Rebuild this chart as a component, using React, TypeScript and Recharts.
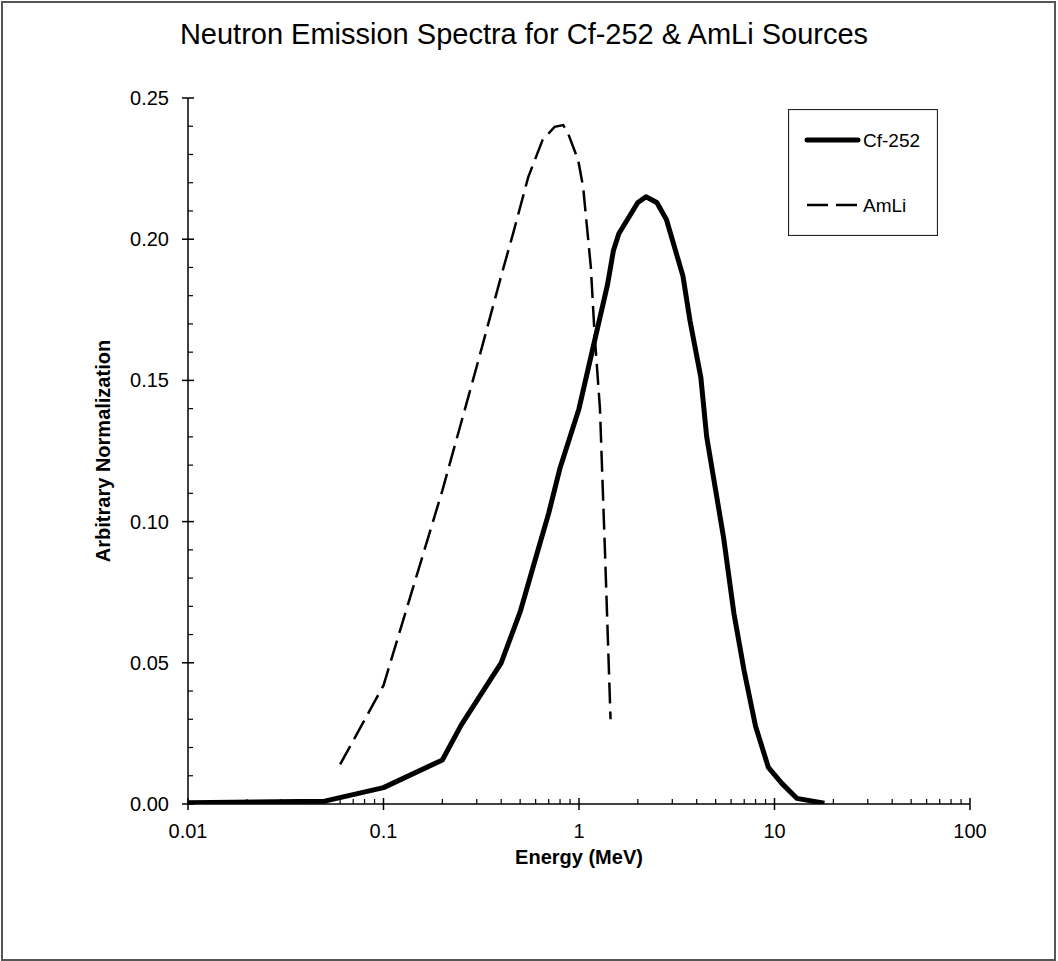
import { LineChart, Line, XAxis, YAxis, Legend, Label } from 'recharts'

const cfEnergy = [0.01, 0.05, 0.1, 0.2, 0.25, 0.4, 0.5, 0.6, 0.7, 0.8, 1.0, 1.4, 1.5, 1.6, 2.0, 2.2, 2.5, 2.8, 3.4, 3.7, 4.2, 4.5, 5.5, 6.2, 7, 8, 9.3, 10.9, 13, 18]
const cfValues = [0.0004, 0.001, 0.0058, 0.0156, 0.028, 0.05, 0.068, 0.087, 0.103, 0.119, 0.14, 0.184, 0.196, 0.202, 0.213, 0.215, 0.213, 0.207, 0.187, 0.171, 0.151, 0.13, 0.094, 0.0675, 0.047, 0.0275, 0.013, 0.0073, 0.002, 0.0003]

const amliEnergy = [0.06, 0.1, 0.2, 0.3, 0.4, 0.46, 0.55, 0.65, 0.75, 0.83, 0.88, 0.99, 1.05, 1.15, 1.2, 1.28, 1.36, 1.45]
const amliValues = [0.014, 0.042, 0.111, 0.155, 0.187, 0.202, 0.222, 0.235, 0.2398, 0.2404, 0.2374, 0.228, 0.2185, 0.19, 0.167, 0.14, 0.088, 0.03]

const xMajor = [0.01, 0.1, 1, 10, 100]
const xMinor = [
  0.02, 0.03, 0.04, 0.05, 0.06, 0.07, 0.08, 0.09,
  0.2, 0.3, 0.4, 0.5, 0.6, 0.7, 0.8, 0.9,
  2, 3, 4, 5, 6, 7, 8, 9,
  20, 30, 40, 50, 60, 70, 80, 90,
]
const yMajor = [0, 0.05, 0.1, 0.15, 0.2, 0.25]
const yMinor = [
  0.01, 0.02, 0.03, 0.04, 0.06, 0.07, 0.08, 0.09, 0.11, 0.12, 0.13, 0.14,
  0.16, 0.17, 0.18, 0.19, 0.21, 0.22, 0.23, 0.24,
]

const cfData = cfEnergy.map((e, i) => ({ e, v: cfValues[i] }))
const amliData = amliEnergy.map((e, i) => ({ e, v: amliValues[i] }))

const FONT = '"Liberation Sans", Arial, sans-serif'
const INK = '#000'

function XTick({ x, y, payload }: any) {
  const v = payload.value
  const major = xMajor.includes(v)
  return (
    <g>
      {major
        ? <line x1={x} x2={x} y1={y - 6} y2={y + 6} stroke={INK} strokeWidth={1.5} />
        : <line x1={x} x2={x} y1={y} y2={y - 5} stroke={INK} strokeWidth={1.2} />}
      {major && (
        <text x={x} y={y + 34} textAnchor="middle" fontSize={20} fontFamily={FONT} fill={INK}>
          {String(v)}
        </text>
      )}
    </g>
  )
}

function YTick({ x, y, payload }: any) {
  const v = payload.value
  const major = yMajor.includes(v)
  return (
    <g>
      {major
        ? <line x1={x - 6} x2={x + 6} y1={y} y2={y} stroke={INK} strokeWidth={1.5} />
        : <line x1={x} x2={x + 5} y1={y} y2={y} stroke={INK} strokeWidth={1.2} />}
      {major && (
        <text x={x - 19} y={y + 7} textAnchor="end" fontSize={20} fontFamily={FONT} fill={INK}>
          {v.toFixed(2)}
        </text>
      )}
    </g>
  )
}

function LegendBox() {
  return (
    <svg width={150} height={127} style={{ display: 'block' }}>
      <rect x={0.5} y={0.5} width={149} height={126} fill="#fff" stroke="#222" strokeWidth={1.2} />
      <line x1={19} x2={70} y1={31} y2={31} stroke={INK} strokeWidth={5} strokeLinecap="round" />
      <text x={75} y={38} fontSize={19} fontFamily={FONT} fill={INK}>Cf-252</text>
      <line x1={19} x2={70} y1={96} y2={96} stroke={INK} strokeWidth={2.5} strokeDasharray="21 8" />
      <text x={75} y={103} fontSize={19} fontFamily={FONT} fill={INK}>AmLi</text>
    </svg>
  )
}

export default function App() {
  return (
    <div style={{ position: 'absolute', left: 0, top: 0, width: 1058, height: 961, background: '#fff', fontFamily: FONT }}>
      <div
        style={{
          position: 'absolute', left: 1, top: 1, width: 1055, height: 960,
          boxSizing: 'border-box', border: '2px solid #555',
        }}
      />
      <div
        style={{
          position: 'absolute', left: 0, top: 16, width: 1048, textAlign: 'center',
          fontSize: 29, lineHeight: '36px', color: INK, fontFamily: FONT,
        }}
      >
        Neutron Emission Spectra for Cf-252 &amp; AmLi Sources
      </div>
      <div style={{ position: 'absolute', left: 0, top: 0 }}>
        <LineChart width={1058} height={961} margin={{ top: 98, right: 88, bottom: 97, left: 88 }}>
          <XAxis
            dataKey="e"
            type="number"
            scale="log"
            domain={[0.01, 100]}
            allowDataOverflow
            ticks={[...xMajor, ...xMinor]}
            interval={0}
            tickSize={0}
            tickMargin={0}
            tickLine={false}
            tick={<XTick />}
            height={60}
            axisLine={{ stroke: INK, strokeWidth: 1.5 }}
          >
            <Label
              value="Energy (MeV)"
              position="insideTop"
              offset={46}
              style={{ fontSize: 20, fontWeight: 'bold', fontFamily: FONT, fill: INK }}
            />
          </XAxis>
          <YAxis
            dataKey="v"
            type="number"
            domain={[0, 0.25]}
            allowDataOverflow
            ticks={[...yMajor, ...yMinor]}
            interval={0}
            tickSize={0}
            tickMargin={0}
            tickLine={false}
            tick={<YTick />}
            width={100}
            axisLine={{ stroke: INK, strokeWidth: 1.5 }}
          >
            <Label
              content={({ viewBox }: any) => {
                const cx = viewBox.x + 15
                const cy = viewBox.y + viewBox.height / 2
                return (
                  <text
                    x={cx}
                    y={cy}
                    transform={`rotate(-90, ${cx}, ${cy})`}
                    textAnchor="middle"
                    dominantBaseline="central"
                    fontSize={20}
                    fontWeight="bold"
                    fontFamily={FONT}
                    fill={INK}
                  >
                    Arbitrary Normalization
                  </text>
                )
              }}
            />
          </YAxis>
          <Legend
            layout="horizontal"
            align="center"
            verticalAlign="middle"
            content={() => <LegendBox />}
            wrapperStyle={{ position: 'absolute', left: 788, top: 109, width: 150, height: 127 }}
          />
          <Line
            name="Cf-252"
            data={cfData}
            dataKey="v"
            type="linear"
            stroke={INK}
            strokeWidth={5}
            strokeLinejoin="round"
            dot={false}
            activeDot={false}
            isAnimationActive={false}
          />
          <Line
            name="AmLi"
            data={amliData}
            dataKey="v"
            type="linear"
            stroke={INK}
            strokeWidth={2.5}
            strokeDasharray="21 8"
            dot={false}
            activeDot={false}
            isAnimationActive={false}
          />
        </LineChart>
      </div>
    </div>
  )
}
